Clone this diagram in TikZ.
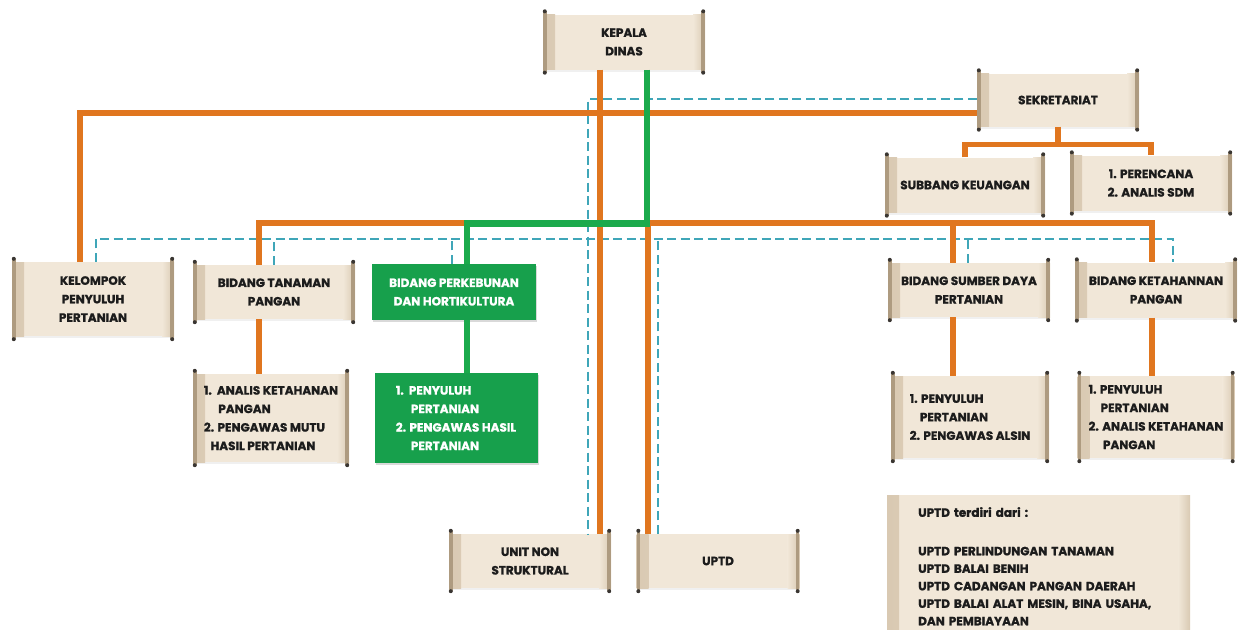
\documentclass[tikz,border=0pt]{standalone}
\usepackage{fontspec}
\setmainfont{Poppins}[BoldFeatures={FakeBold=1.2}]
\usetikzlibrary{shadows}

\definecolor{scrollbg}{HTML}{F1E7D8}
\definecolor{scrolledge}{HTML}{D9C9B2}
\definecolor{rodbrown}{HTML}{AE9B80}
\definecolor{knobdark}{HTML}{3A3632}
\definecolor{inktext}{HTML}{1C1C1C}
\definecolor{linkorange}{HTML}{E0761F}
\definecolor{linkgreen}{HTML}{1BAA4C}
\definecolor{boxgreen}{HTML}{17A04C}
\definecolor{linkcyan}{HTML}{3FA6B8}

\begin{document}
\begin{tikzpicture}[x=1pt, y=-1pt,
    every node/.style={font=\bfseries\fontsize{12}{18.5}\selectfont, inner sep=0pt},
    scroll/.style={rectangle, fill=scrollbg, text=inktext, align=center, minimum width=162pt, minimum height=54pt,
        drop shadow={opacity=0.12, shadow xshift=0pt, shadow yshift=-2pt},
        path picture={
            \shade[left color=scrolledge, right color=scrollbg] (path picture bounding box.north west) rectangle ([xshift=12pt]path picture bounding box.south west);
            \shade[left color=scrollbg, right color=scrolledge] ([xshift=-12pt]path picture bounding box.north east) rectangle (path picture bounding box.south east);
        }},
    greenbox/.style={rectangle, fill=boxgreen, text=white, align=center, minimum width=164pt, minimum height=56pt,
        drop shadow={opacity=0.3, shadow xshift=1pt, shadow yshift=-1.5pt}},
    listbox/.style={align=left},
    infobox/.style={scroll, align=left, text width=241pt, inner xsep=31pt, inner ysep=12pt, minimum width=303pt,
        font=\bfseries\fontsize{12}{17.5}\selectfont},
    solidlink/.style={draw=linkorange, line width=5.5pt},
    greenlink/.style={draw=linkgreen, line width=6.5pt},
    dashlink/.style={draw=linkcyan, line width=2.4pt, dash pattern=on 9pt off 4.5pt},
    rod/.style={draw=rodbrown, line width=3.5pt},
    knob/.style={fill=knobdark}
]
\useasboundingbox (0,0) rectangle (1238,629);

% Pimpinan dan sekretariat
\node[scroll, minimum height=55pt] (kepala) at (624,42) {KEPALA\\DINAS};
\node[scroll, minimum height=53pt] (sekretariat) at (1058,100) {SEKRETARIAT};
\node[scroll, minimum width=160pt, minimum height=55pt] (subbang) at (965,185) {SUBBANG KEUANGAN};
\node[scroll, minimum height=55pt] (perencana) at (1151,183) {1. PERENCANA\\2. ANALIS SDM};

% Bidang
\node[scroll, minimum height=74pt] (kelompok) at (93,299) {KELOMPOK\\PENYULUH\\PERTANIAN};
\node[scroll] (tanaman) at (274,292) {BIDANG TANAMAN\\PANGAN};
\node[greenbox] (perkebunan) at (454,292) {BIDANG PERKEBUNAN\\DAN HORTIKULTURA};
\node[scroll] (sumberdaya) at (969,290) {BIDANG SUMBER DAYA\\PERTANIAN};
\node[scroll, minimum height=55pt] (ketahanan) at (1156,290) {BIDANG KETAHANNAN\\PANGAN};

% Jabatan fungsional
\node[scroll, listbox, minimum width=156pt, minimum height=88pt] (analis) at (271,418)
    {1.\ \ ANALIS KETAHANAN\\\hspace*{1.2em}PANGAN\\2. PENGAWAS MUTU\\\hspace*{0.55em}HASIL PERTANIAN};
\node[greenbox, listbox, minimum width=163pt, minimum height=90pt] (hortisub) at (456,418)
    {1.\ \ PENYULUH\\\hspace*{1.25em}PERTANIAN\\2. PENGAWAS HASIL\\\hspace*{1.25em}PERTANIAN};
\node[scroll, listbox, minimum width=158pt, minimum height=82pt] (sdsub) at (970,417)
    {1. PENYULUH\\\hspace*{0.85em}PERTANIAN\\2. PENGAWAS ALSIN};
\node[scroll, listbox, minimum width=157pt, minimum height=82pt] (ketsub) at (1156,417)
    {1. PENYULUH\\\hspace*{1em}PERTANIAN\\2. ANALIS KETAHANAN\\\hspace*{1.2em}PANGAN};

% Unit di bawah
\node[scroll] (unitnon) at (530,561) {UNIT NON\\STRUKTURAL};
\node[scroll, minimum width=163pt] (uptd) at (718,561) {UPTD};
\node[infobox, anchor=north west] (uptdinfo) at (887,495)
    {\mbox{UPTD terdiri dari :}\\[21pt]
     \mbox{UPTD PERLINDUNGAN TANAMAN}\\
     \mbox{UPTD BALAI BENIH}\\
     \mbox{UPTD CADANGAN PANGAN DAERAH}\\
     \mbox{UPTD BALAI ALAT MESIN, BINA USAHA,}\\
     \mbox{DAN PEMBIAYAAN}};

% Garis koordinasi
\draw[dashlink] ([yshift=1pt]sekretariat.west) -| ([xshift=58pt]unitnon.north);
\draw[dashlink] ([xshift=3pt]kelompok.north) -- ++(0,-23) -| ([xshift=17pt]ketahanan.north);
\draw[dashlink] (tanaman.north) -- ++(0,-26);
\draw[dashlink] ([xshift=-2pt]perkebunan.north) -- ++(0,-25);
\draw[dashlink] ([xshift=-1pt]sumberdaya.north) -- ++(0,-24);
\draw[dashlink] ([xshift=-60pt]uptd.north) -- ++(0,-295);

% Garis komando
\draw[solidlink] ([xshift=-24pt]kepala.south) -- ([xshift=70pt]unitnon.north);
\draw[solidlink] ([yshift=-13pt]sekretariat.west) -| ([xshift=-13pt]kelompok.north);
\draw[solidlink] (sekretariat.south) -- ++(0,18);
\draw[solidlink] (subbang.north) |- ([yshift=-18pt]sekretariat.south) -| (perencana.north);
\draw[solidlink] ([xshift=-15pt]tanaman.north) -- ++(0,-42) -| ([xshift=-4pt]ketahanan.north);
\draw[solidlink] ([xshift=-16pt]sumberdaya.north) -- ++(0,-40);
\draw[solidlink] ([xshift=-70pt]uptd.north) -- ++(0,-311);
\draw[solidlink] ([xshift=-15pt]tanaman.south) -- ([xshift=-12pt]analis.north);
\draw[solidlink] ([xshift=-16pt]sumberdaya.south) -- ([xshift=-17pt]sdsub.north);
\draw[solidlink] ([xshift=-4pt]ketahanan.south) -- ([xshift=-4pt]ketsub.north);
\draw[greenlink] ([xshift=23pt]kepala.south) -- ++(0,154) -| ([xshift=13pt]perkebunan.north);
\draw[greenlink] ([xshift=13pt]perkebunan.south) -- ([xshift=11pt]hortisub.north);

% Gulungan
\foreach \n in {kepala,sekretariat,subbang,perencana,kelompok,tanaman,analis,unitnon,uptd,sumberdaya,ketahanan,sdsub,ketsub}{
    \draw[rod] ([shift={(2pt,3pt)}]\n.north west) -- ([shift={(2pt,-3pt)}]\n.south west);
    \draw[rod] ([shift={(-2pt,3pt)}]\n.north east) -- ([shift={(-2pt,-3pt)}]\n.south east);
    \foreach \a/\dx/\dy in {north west/2pt/3pt, south west/2pt/-3pt, north east/-2pt/3pt, south east/-2pt/-3pt}
        \fill[knob] ([shift={(\dx,\dy)}]\n.\a) circle[radius=2pt];
}

\end{tikzpicture}
\end{document}
